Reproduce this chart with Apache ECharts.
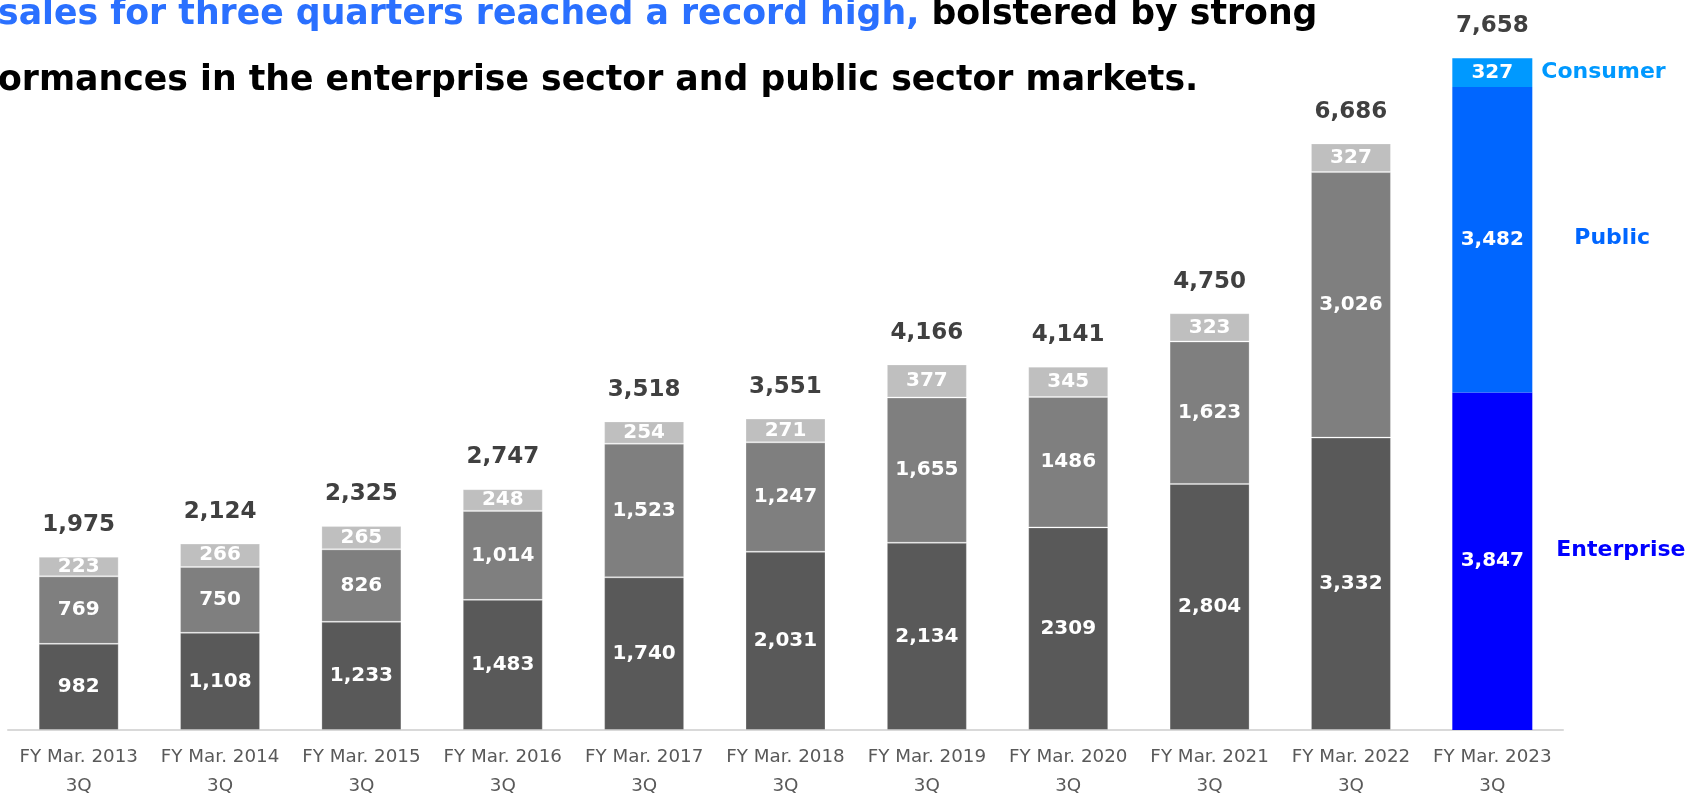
<!DOCTYPE html>
<html>
<head>
<meta charset="utf-8">
<title>Net sales by segment, 3Q cumulative</title>
<script src="https://cdn.jsdelivr.net/npm/echarts@6/dist/echarts.min.js"></script>
<style>
  html, body { margin: 0; padding: 0; background: #ffffff; }
  #chart { width: 1689px; height: 796px; }
</style>
</head>
<body>
<div id="chart"></div>
<script>
// Fiscal periods (cumulative through the third quarter)
const categories = ['FY Mar. 2013', 'FY Mar. 2014', 'FY Mar. 2015', 'FY Mar. 2016', 'FY Mar. 2017',
  'FY Mar. 2018', 'FY Mar. 2019', 'FY Mar. 2020', 'FY Mar. 2021', 'FY Mar. 2022', 'FY Mar. 2023'];
const quarterTag = '3Q';

// Segment sales
const enterprise = [982, 1108, 1233, 1483, 1740, 2031, 2134, 2309, 2804, 3332, 3847];
const publicSector = [769, 750, 826, 1014, 1523, 1247, 1655, 1486, 1623, 3026, 3482];
const consumer = [223, 266, 265, 248, 254, 271, 377, 345, 323, 327, 327];
// Reported totals
const totals = [1975, 2124, 2325, 2747, 3518, 3551, 4166, 4141, 4750, 6686, 7658];

// Periods whose segment figures are printed without thousands separators
const plainFigurePeriods = [7];
// Latest period, shown in colour
const latest = categories.length - 1;

const FONT = '"DejaVu Sans", Verdana, sans-serif';
const grey = { enterprise: '#595959', public: '#7f7f7f', consumer: '#bfbfbf' };
const blue = { enterprise: '#0000ff', public: '#0066ff', consumer: '#0099ff' };

function withComma(v) {
  return String(v).replace(/\B(?=(\d{3})+(?!\d))/g, ',');
}
function segmentText(p) {
  return plainFigurePeriods.includes(p.dataIndex) ? String(p.value) : withComma(p.value);
}

function buildData(values, key) {
  return values.map((v, i) => {
    if (i !== latest) return v;
    return { value: v, itemStyle: { color: blue[key], borderWidth: 0 } };
  });
}

const segLabel = {
  show: true,
  position: 'inside',
  color: '#ffffff',
  fontFamily: FONT,
  fontWeight: 'bold',
  fontSize: 20,
  formatter: segmentText
};

function segSeries(name, values, key) {
  return {
    name: name,
    type: 'bar',
    stack: 'sales',
    barWidth: 80,
    barGap: '-100%',
    data: buildData(values, key),
    itemStyle: { color: grey[key], borderColor: 'rgba(255,255,255,0.25)', borderWidth: 1 },
    label: segLabel,
    emphasis: { disabled: true },
    silent: true
  };
}

const chart = echarts.init(document.getElementById('chart'), null, { renderer: 'canvas' });

const option = {
  animation: false,
  backgroundColor: '#ffffff',
  grid: {
    left: 8, width: 1555, top: 28, height: 702,
    containLabel: false,
    outerBoundsMode: 'none'
  },
  xAxis: {
    type: 'category',
    data: categories,
    axisLine: { show: true, lineStyle: { color: '#d9d9d9', width: 2 } },
    axisTick: { show: false },
    axisLabel: {
      color: '#595959',
      fontFamily: FONT,
      fontSize: 18.3,
      lineHeight: 29,
      margin: 13,
      interval: 0,
      formatter: (v) => v + '\n' + quarterTag
    },
    splitLine: { show: false }
  },
  yAxis: {
    type: 'value',
    min: 0,
    max: 8000,
    show: false,
    splitLine: { show: false }
  },
  series: [
    segSeries('Enterprise', enterprise, 'enterprise'),
    segSeries('Public', publicSector, 'public'),
    segSeries('Consumer', consumer, 'consumer'),
    {
      name: 'Total',
      type: 'bar',
      barWidth: 80,
      barGap: '-100%',
      data: totals,
      itemStyle: { color: 'rgba(0,0,0,0)' },
      label: {
        show: true,
        position: 'top',
        distance: 20,
        color: '#404040',
        fontFamily: FONT,
        fontWeight: 'bold',
        fontSize: 23,
        formatter: (p) => withComma(p.value)
      },
      z: 1,
      emphasis: { disabled: true },
      silent: true
    }
  ]
};

chart.setOption(option);

// Segment names beside the latest bar
function segmentNames() {
  const e = enterprise[latest], pb = publicSector[latest], c = consumer[latest];
  const xc = chart.convertToPixel({ gridIndex: 0 }, [latest, 0])[0];
  const right = xc + 40;
  const rows = [
    { text: 'Consumer', color: blue.consumer, value: e + pb + c / 2, dx: 9, dy: 0 },
    { text: 'Public', color: blue.public, value: e + pb / 2, dx: 42, dy: -1 },
    { text: 'Enterprise', color: blue.enterprise, value: e / 2, dx: 24, dy: -11 }
  ];
  return rows.map((r) => ({
    type: 'text',
    x: right + r.dx,
    y: chart.convertToPixel({ gridIndex: 0 }, [latest, r.value])[1] + r.dy,
    style: {
      text: r.text,
      fill: r.color,
      font: 'bold 22px ' + FONT,
      textAlign: 'left',
      textVerticalAlign: 'middle'
    },
    silent: true
  }));
}

// Headline above the chart
chart.setOption({
  graphic: [
    {
      type: 'text',
      x: -2,
      y: 15,
      style: {
        text: '{hl|sales for three quarters reached a record high,}{tx| bolstered by strong}',
        textVerticalAlign: 'middle',
        rich: {
          hl: { fill: '#2a70ff', font: 'bold 34.7px ' + FONT },
          tx: { fill: '#000000', font: 'bold 34.7px ' + FONT }
        }
      },
      silent: true
    },
    {
      type: 'text',
      x: -2,
      y: 81,
      style: {
        text: 'ormances in the enterprise sector and public sector markets.',
        fill: '#000000',
        font: 'bold 34.7px ' + FONT,
        textVerticalAlign: 'middle'
      },
      silent: true
    }
  ].concat(segmentNames())
});
</script>
</body>
</html>
